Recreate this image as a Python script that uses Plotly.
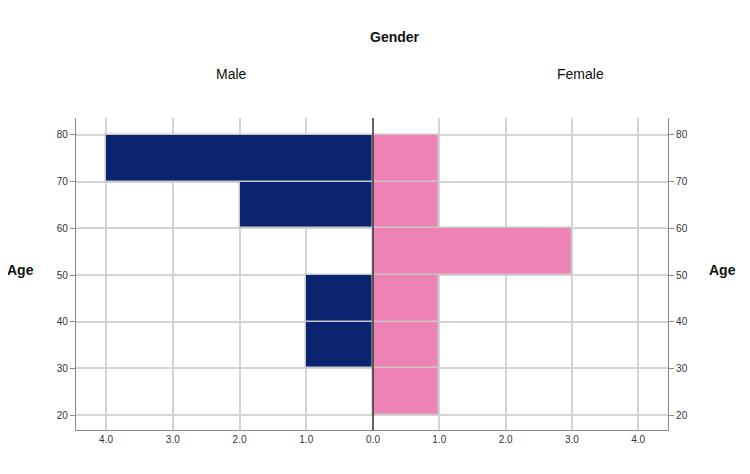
import plotly.graph_objects as go

# ---- data ----
age_bin_starts = [20, 30, 40, 50, 60, 70]
age_bin_ends = [30, 40, 50, 60, 70, 80]
male_counts = [0, 1, 1, 0, 2, 4]
female_counts = [1, 1, 1, 3, 1, 1]
x_tick_values = [0, 1, 2, 3, 4]
x_tick_labels = ["0.0", "1.0", "2.0", "3.0", "4.0"]
age_ticks = [20, 30, 40, 50, 60, 70, 80]

centers = [(a + b) / 2 for a, b in zip(age_bin_starts, age_bin_ends)]
widths = [b - a for a, b in zip(age_bin_starts, age_bin_ends)]

NAVY = "rgb(11,36,112)"
PINK = "rgb(239,130,180)"
GRID = "#d4d4d4"
AXIS = "#8a8a8a"
FONT = "Liberation Sans, Arial, sans-serif"

fig = go.Figure()
fig.add_trace(go.Bar(
    y=centers, x=male_counts, width=widths, orientation="h",
    marker=dict(color=NAVY, line=dict(color="#c8c8c8", width=1.5)),
    xaxis="x", yaxis="y", showlegend=False, name="Male"))
fig.add_trace(go.Bar(
    y=centers, x=female_counts, width=widths, orientation="h",
    marker=dict(color=PINK, line=dict(color="#c8c8c8", width=1.5)),
    xaxis="x2", yaxis="y2", showlegend=False, name="Female"))

# page body adds an 8px offset
OFF = 8
PL, PR, PT, PB = 76, 668, 118, 430
split = (373 - PL) / (PR - PL)
yr = [16.79, 83.64]
xr = 4.45

common_x = dict(showgrid=True, gridcolor=GRID, gridwidth=1.5, showline=True,
                linecolor=AXIS, linewidth=1.2, zeroline=False, ticks="",
                tickfont=dict(family=FONT, size=10, color="#333"))
common_y = dict(range=yr, tickvals=age_ticks, showgrid=True, gridcolor=GRID,
                gridwidth=1.5, showline=True, linecolor=AXIS, linewidth=1.2,
                zeroline=False, ticks="outside", ticklen=5, tickcolor=AXIS,
                tickfont=dict(family=FONT, size=10, color="#333"))

fig.update_layout(
    width=750, height=474,
    margin=dict(l=PL - OFF, r=750 - PR + OFF, t=PT - OFF, b=474 - PB + OFF),
    plot_bgcolor="white", paper_bgcolor="white",
    bargap=0,
    xaxis=dict(domain=[0, split], range=[xr, 0], anchor="y",
               tickvals=x_tick_values[1:], ticktext=x_tick_labels[1:], **common_x),
    xaxis2=dict(domain=[split, 1], range=[0, xr], anchor="y2",
                tickvals=x_tick_values, ticktext=x_tick_labels, **common_x),
    yaxis=dict(anchor="x", side="left", **common_y),
    yaxis2=dict(anchor="x2", side="right", matches="y", **common_y),
    font=dict(family=FONT),
)

# dark divider at zero
fig.add_shape(type="line", xref="paper", yref="paper", x0=split, x1=split,
              y0=0, y1=1, line=dict(color="#3a3a3a", width=1.6))

ann = [
    dict(text="<b>Gender</b>", x=395, y=37, size=14),
    dict(text="Male", x=231, y=74, size=14),
    dict(text="Female", x=580, y=74, size=14),
    dict(text="<b>Age</b>", x=20, y=270, size=14),
    dict(text="<b>Age</b>", x=722, y=270, size=14),
]
for a in ann:
    fig.add_annotation(text=a["text"], xref="paper", yref="paper",
                       x=(a["x"] - PL) / (PR - PL),
                       y=1 - (a["y"] - PT) / (PB - PT),
                       showarrow=False, xanchor="center", yanchor="middle",
                       font=dict(family=FONT, size=a["size"], color="#111"))

fig.write_html("out.html")
